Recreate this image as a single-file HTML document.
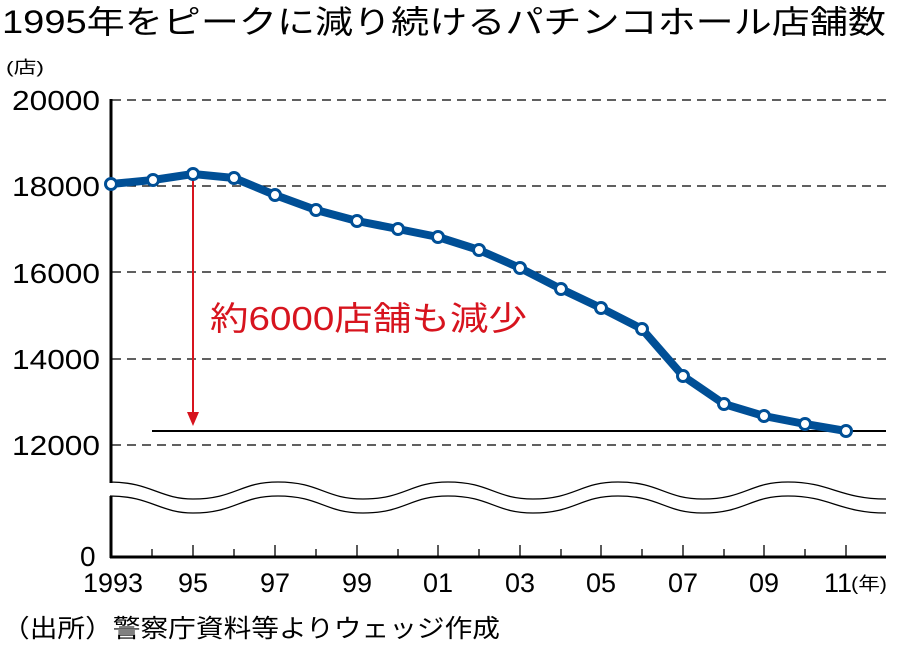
<!DOCTYPE html>
<html><head><meta charset="utf-8"><style>
body{margin:0;background:#fff;width:900px;height:646px;overflow:hidden}
svg text{font-family:"Liberation Sans","Noto Sans CJK JP",sans-serif}
</style></head><body>
<svg width="900" height="646" viewBox="0 0 900 646" xmlns="http://www.w3.org/2000/svg">
<text x="2" y="33" font-size="32" fill="#000" textLength="884" lengthAdjust="spacingAndGlyphs">1995年をピークに減り続けるパチンコホール店舗数</text>
<text x="6" y="73" font-size="17" textLength="38" lengthAdjust="spacingAndGlyphs">(店)</text>
<g font-size="28" fill="#000">
<text x="12" y="110" textLength="88" lengthAdjust="spacingAndGlyphs">20000</text>
<text x="12" y="196" textLength="88" lengthAdjust="spacingAndGlyphs">18000</text>
<text x="12" y="283" textLength="88" lengthAdjust="spacingAndGlyphs">16000</text>
<text x="12" y="369" textLength="88" lengthAdjust="spacingAndGlyphs">14000</text>
<text x="12" y="455" textLength="88" lengthAdjust="spacingAndGlyphs">12000</text>
<text x="80" y="566" text-anchor="start">0</text>
</g>
<g stroke="#000" stroke-width="1.3" stroke-dasharray="9,6">
<line x1="112" y1="100" x2="886" y2="100"/>
<line x1="112" y1="186" x2="886" y2="186"/>
<line x1="112" y1="272" x2="886" y2="272"/>
<line x1="112" y1="359" x2="886" y2="359"/>
<line x1="112" y1="445" x2="886" y2="445"/>
</g>
<line x1="152" y1="431" x2="886" y2="431" stroke="#000" stroke-width="2"/>
<line x1="111" y1="99" x2="111" y2="483" stroke="#000" stroke-width="3"/>
<line x1="111" y1="496" x2="111" y2="558" stroke="#000" stroke-width="3"/>
<line x1="110" y1="557" x2="886" y2="557" stroke="#000" stroke-width="3"/>
<g fill="none" stroke="#000" stroke-width="1.3">
<path d="M110 482 C150 482 160 499 193 499 C235 499 240 482 278 482 C320 482 325 499 363 499 C405 499 410 482 448 482 C490 482 495 499 533 499 C575 499 580 482 618 482 C660 482 665 499 703 499 C745 499 750 482 788 482 C830 482 840 499 886 499"/>
<path d="M110 496 C150 496 160 513 193 513 C235 513 240 496 278 496 C320 496 325 513 363 513 C405 513 410 496 448 496 C490 496 495 513 533 513 C575 513 580 496 618 496 C660 496 665 513 703 513 C745 513 750 496 788 496 C830 496 840 513 886 513"/>
</g>
<g stroke="#000" stroke-width="1.3">
<line x1="152" y1="549" x2="152" y2="557"/><line x1="193" y1="545" x2="193" y2="557"/>
<line x1="234" y1="549" x2="234" y2="557"/><line x1="275" y1="545" x2="275" y2="557"/>
<line x1="316" y1="549" x2="316" y2="557"/><line x1="357" y1="545" x2="357" y2="557"/>
<line x1="398" y1="549" x2="398" y2="557"/><line x1="438" y1="545" x2="438" y2="557"/>
<line x1="479" y1="549" x2="479" y2="557"/><line x1="520" y1="545" x2="520" y2="557"/>
<line x1="561" y1="549" x2="561" y2="557"/><line x1="601" y1="545" x2="601" y2="557"/>
<line x1="642" y1="549" x2="642" y2="557"/><line x1="683" y1="545" x2="683" y2="557"/>
<line x1="724" y1="549" x2="724" y2="557"/><line x1="764" y1="545" x2="764" y2="557"/>
<line x1="805" y1="549" x2="805" y2="557"/><line x1="846" y1="545" x2="846" y2="557"/>
</g>
<g font-size="27" text-anchor="middle">
<text x="113" y="592">1993</text><text x="193" y="592">95</text><text x="275" y="592">97</text>
<text x="357" y="592">99</text><text x="438" y="592">01</text><text x="520" y="592">03</text>
<text x="601" y="592">05</text><text x="683" y="592">07</text><text x="764" y="592">09</text>
<text x="838" y="592">11</text>
</g>
<text x="851" y="590" font-size="18" textLength="36" lengthAdjust="spacingAndGlyphs">(年)</text>
<text x="2" y="637" font-size="25" textLength="498" lengthAdjust="spacingAndGlyphs">（出所）警察庁資料等よりウェッジ作成</text>
<line x1="193" y1="180" x2="193" y2="414" stroke="#d7141e" stroke-width="2"/>
<polygon points="187,412 199,412 193,426" fill="#d7141e"/>
<text x="210" y="330" font-size="33" fill="#d7141e" textLength="317" lengthAdjust="spacingAndGlyphs">約6000店舗も減少</text>
<polyline fill="none" stroke="#004f96" stroke-width="8" stroke-linejoin="round" points="111,184 153,180 193,174 234,178 275,195 316,210 357,221 398,229 438,237 479,250 520,268 561,289 601,308 642,329 683,376 724,404 764,416 805,424 846,431"/>
<g fill="#fff" stroke="#004f96" stroke-width="3">
<circle cx="111" cy="184" r="5.5"/><circle cx="153" cy="180" r="5.5"/><circle cx="193" cy="174" r="5.5"/>
<circle cx="234" cy="178" r="5.5"/><circle cx="275" cy="195" r="5.5"/><circle cx="316" cy="210" r="5.5"/>
<circle cx="357" cy="221" r="5.5"/><circle cx="398" cy="229" r="5.5"/><circle cx="438" cy="237" r="5.5"/>
<circle cx="479" cy="250" r="5.5"/><circle cx="520" cy="268" r="5.5"/><circle cx="561" cy="289" r="5.5"/>
<circle cx="601" cy="308" r="5.5"/><circle cx="642" cy="329" r="5.5"/><circle cx="683" cy="376" r="5.5"/>
<circle cx="724" cy="404" r="5.5"/><circle cx="764" cy="416" r="5.5"/><circle cx="805" cy="424" r="5.5"/>
<circle cx="846" cy="431" r="5.5"/>
</g>
</svg>
</body></html>
